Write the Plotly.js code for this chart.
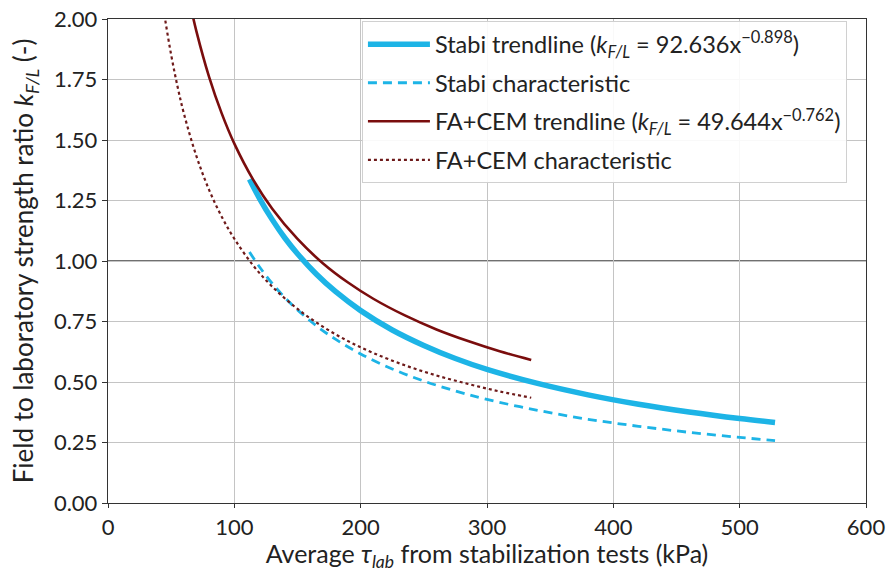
<!DOCTYPE html>
<html>
<head>
<meta charset="utf-8">
<script src="https://cdn.plot.ly/plotly-3.0.1.min.js"></script>
<style>html,body{margin:0;padding:0;background:#fff;}#chart{width:890px;height:572px;}</style>
</head>
<body>
<div id="chart"></div>
<script>
// Values
const stabiX = [112, 120, 130, 140, 150, 165, 180, 200, 225, 250, 275, 300, 340, 380, 420, 460, 500, 528];
const stabiTrend = [1.338, 1.258, 1.171, 1.095, 1.030, 0.945, 0.874, 0.795, 0.715, 0.651, 0.597, 0.552, 0.494, 0.447, 0.408, 0.376, 0.349, 0.333];
const stabiChar = [1.037, 0.975, 0.907, 0.849, 0.798, 0.732, 0.677, 0.616, 0.554, 0.504, 0.463, 0.428, 0.383, 0.346, 0.317, 0.292, 0.271, 0.258];

const faTrendX = [60, 65, 70, 80, 90, 100, 115, 130, 150, 170, 190, 210, 235, 260, 285, 310, 335];
const faTrend = [2.192, 2.062, 1.949, 1.761, 1.610, 1.485, 1.335, 1.216, 1.091, 0.991, 0.911, 0.844, 0.775, 0.717, 0.669, 0.627, 0.591];

const faCharX = [42, 45, 50, 55, 60, 70, 80, 90, 100, 115, 130, 150, 170, 190, 210, 235, 260, 285, 310, 335];
const faChar = [2.115, 2.006, 1.852, 1.722, 1.611, 1.433, 1.294, 1.183, 1.092, 0.981, 0.894, 0.802, 0.729, 0.669, 0.620, 0.569, 0.527, 0.492, 0.461, 0.435];

const names = [
  'Stabi trendline (<i>k</i><sub><i>F/L</i></sub> = 92.636x<sup>\u22120.898</sup>)',
  'Stabi characteristic',
  'FA+CEM trendline (<i>k</i><sub><i>F/L</i></sub> = 49.644x<sup>\u22120.762</sup>)',
  'FA+CEM characteristic'
];
const xTicks = [0, 100, 200, 300, 400, 500, 600];
const yTicks = [0, 0.25, 0.5, 0.75, 1.0, 1.25, 1.5, 1.75, 2.0];

const cyan = '#1db4e6';
const brown = '#7a0d0d';

const traces = [
  {x: stabiX, y: stabiTrend, name: names[0], mode: 'lines', line: {color: cyan, width: 5.5, shape: 'spline'}, legendgroup: 'a'},
  {x: stabiX, y: stabiChar, name: names[1], mode: 'lines', line: {color: cyan, width: 2.8, dash: '9px,6px', shape: 'spline'}, legendgroup: 'b'},
  {x: faTrendX, y: faTrend, name: names[2], mode: 'lines', line: {color: brown, width: 2.6, shape: 'spline'}, legendgroup: 'c'},
  {x: faCharX, y: faChar, name: names[3], mode: 'lines', line: {color: '#6e1a1a', width: 2.2, dash: 'dot', shape: 'spline'}, legendgroup: 'd'}
];

const font = 'Lato, "Open Sans", "DejaVu Sans", sans-serif';

const layout = {
  width: 890, height: 572,
  margin: {l: 108, r: 24, t: 19, b: 69},
  paper_bgcolor: '#fff', plot_bgcolor: '#fff',
  font: {family: font, size: 22, color: '#222'},
  showlegend: true,
  legend: {
    x: 0.335, y: 0.995, xanchor: 'left', yanchor: 'top',
    bgcolor: 'rgba(255,255,255,0.9)', bordercolor: '#d0d0d0', borderwidth: 1,
    font: {family: font, size: 23.5, color: '#222'},
    traceorder: 'grouped', tracegroupgap: 5, itemwidth: 62
  },
  xaxis: {
    range: [0, 600], tickvals: xTicks, ticktext: xTicks.map(String),
    tickfont: {family: font, size: 22, color: '#222'},
    showgrid: true, gridcolor: '#c4c4c4', gridwidth: 1,
    showline: true, linecolor: '#333', linewidth: 1.2, mirror: true,
    ticks: 'outside', ticklen: 4, tickcolor: '#333', zeroline: false,
    title: {text: 'Average <i>\u03c4</i><sub><i>lab</i></sub> from stabilization tests (kPa)', font: {family: font, size: 25, color: '#222'}, standoff: 11}
  },
  yaxis: {
    range: [0, 2.0], tickvals: yTicks, ticktext: yTicks.map(v => v.toFixed(2)),
    tickfont: {family: font, size: 22, color: '#222'},
    showgrid: true, gridcolor: '#c4c4c4', gridwidth: 1,
    showline: true, linecolor: '#333', linewidth: 1.2, mirror: true,
    ticks: 'outside', ticklen: 5, tickcolor: '#333', zeroline: false,
    title: {text: 'Field to laboratory strength ratio <i>k</i><sub><i>F/L</i></sub> (-)', font: {family: font, size: 26, color: '#222'}, standoff: 12}
  },
  shapes: [
    {type: 'line', xref: 'paper', x0: 0, x1: 1, yref: 'y', y0: 1, y1: 1, line: {color: '#707070', width: 2}, layer: 'below'}
  ]
};

Plotly.newPlot('chart', traces, layout, {displayModeBar: false, staticPlot: true});
</script>
</body>
</html>
